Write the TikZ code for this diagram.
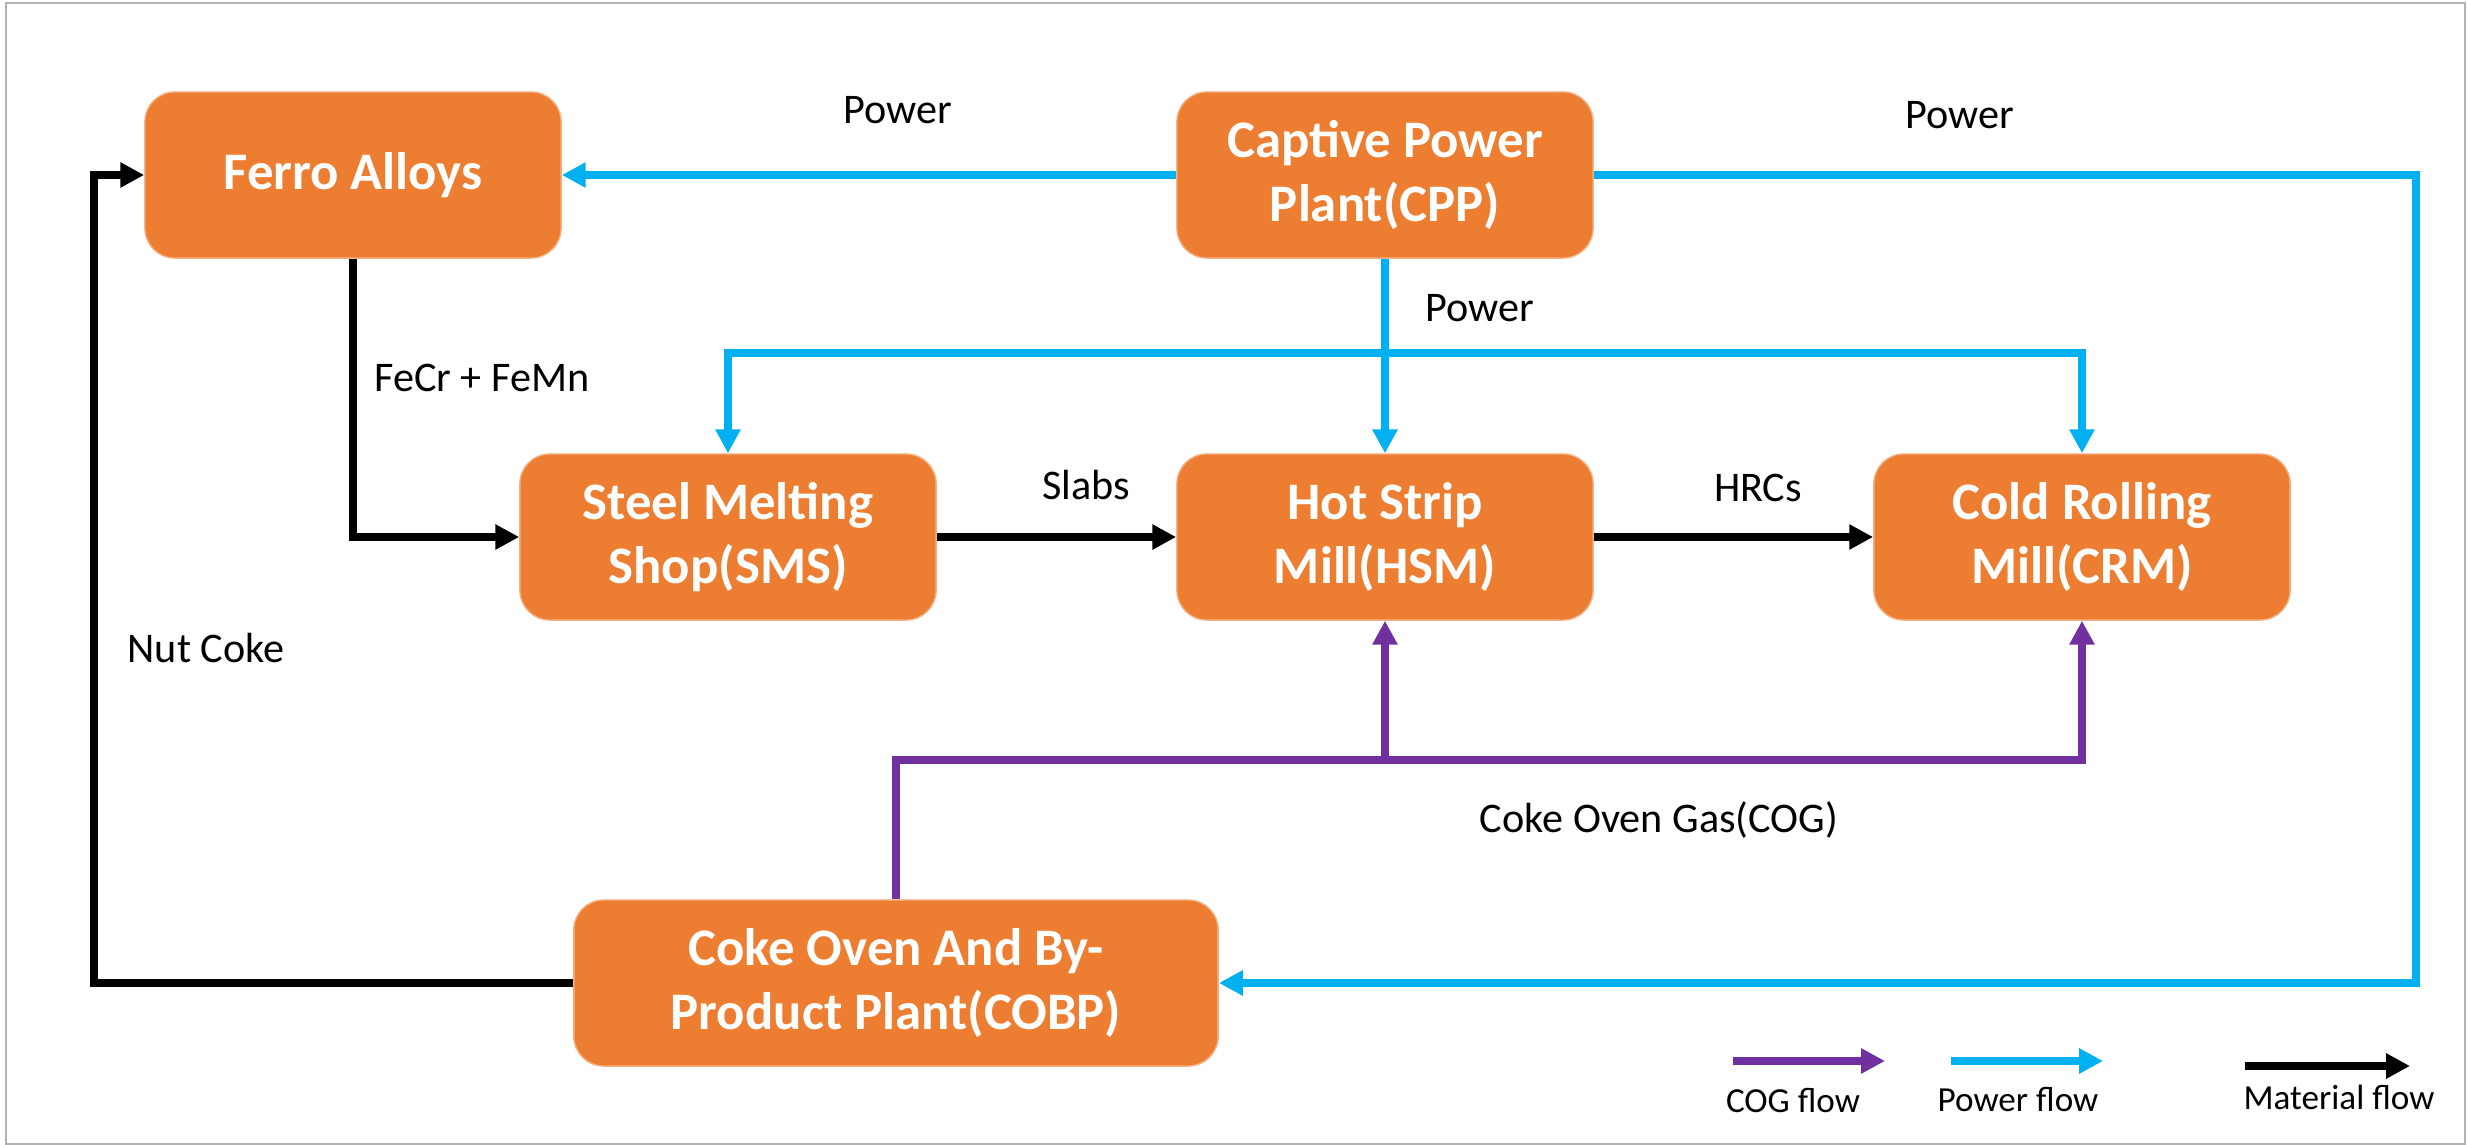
\documentclass[tikz,border=0pt]{standalone}
\usepackage{fontspec}
\setmainfont{Carlito}
\usetikzlibrary{positioning,arrows.meta}
\definecolor{plantorange}{HTML}{ED7D31}
\definecolor{powerblue}{HTML}{00B0F0}
\definecolor{cogpurple}{HTML}{7030A0}
\begin{document}
\begin{tikzpicture}[x=0.01cm,y=-0.01cm,>={Triangle[length=6.8pt,width=6.8pt]}]
	\tikzstyle{plant}=[rectangle,rounded corners=8.5pt,fill=plantorange,draw=plantorange!60,line width=0.4pt,text=white,font=\bfseries\fontsize{15}{18}\selectfont,align=center,minimum width=4.16cm,minimum height=1.66cm]
	\tikzstyle{power}=[draw=powerblue,line width=2.1pt,->]
	\tikzstyle{material}=[draw=black,line width=2.1pt,->]
	\tikzstyle{cog}=[draw=cogpurple,line width=2.1pt,->]
	\tikzstyle{flowlabel}=[font=\fontsize{12}{14}\selectfont]
	\tikzstyle{legendlabel}=[font=\fontsize{10}{12}\selectfont]
	\useasboundingbox (0,0) rectangle (2468,1145);
	\draw[gray!60,line width=0.6pt] (6,3) rectangle (2465,1144);
		\node[plant] (fa) at (353,175) {Ferro Alloys};
		\node[plant] (cpp) at (1385,175) {Captive Power\\Plant(CPP)};
		\node[plant] (sms) at (728,537) {Steel Melting\\Shop(SMS)};
		\node[plant] (hsm) at (1385,537) {Hot Strip\\Mill(HSM)};
		\node[plant] (crm) at (2082,537) {Cold Rolling\\Mill(CRM)};
		\node[plant,minimum width=6.44cm] (cobp) at (896,983) {Coke Oven And By-\\Product Plant(COBP)};
		\coordinate (bus) at (1385,353);
		\coordinate (righte) at (2416,175);
		\coordinate (lefte) at (94,983);
		\coordinate (cogbus) at (1385,760);
			\draw[power] (cpp) -- (fa);
			\draw[power] (cpp) -- (righte) |- (cobp);
			\draw[power] (cpp) -- (hsm);
			\draw[power,<->] (sms) |- (bus) -| (crm);
			\draw[material] (fa) |- (sms);
			\draw[material] (sms) -- (hsm);
			\draw[material] (hsm) -- (crm);
			\draw[material] (cobp) -- (lefte) |- (fa);
			\draw[cog] (cobp) |- (cogbus) -| (crm);
			\draw[cog] (cogbus) -- (hsm);
		\node[flowlabel] (l1) at (898,110) {Power};
		\node[flowlabel] (l2) at (1960,115) {Power};
		\node[flowlabel] (l3) at (1480,308) {Power};
		\node[flowlabel] (l4) at (482,378) {FeCr + FeMn};
		\node[flowlabel] (l5) at (1086,485) {Slabs};
		\node[flowlabel] (l6) at (1758,488) {HRCs};
		\node[flowlabel] (l7) at (206,648) {Nut Coke};
		\node[flowlabel] (l8) at (1659,820) {Coke Oven Gas(COG)};
		\coordinate (cogA) at (1733,1061);
		\coordinate (cogB) at (1885,1061);
		\coordinate (powA) at (1951,1061);
		\coordinate (powB) at (2103,1061);
		\coordinate (matA) at (2245,1066);
		\coordinate (matB) at (2410,1066);
			\draw[cog,line width=2.3pt] (cogA) -- (cogB);
			\draw[power,line width=2.3pt] (powA) -- (powB);
			\draw[material,line width=2.3pt] (matA) -- (matB);
		\node[legendlabel] (g1) at (1793,1101) {COG flow};
		\node[legendlabel] (g2) at (2018,1100) {Power flow};
		\node[legendlabel] (g3) at (2339,1097) {Material flow};
\end{tikzpicture}
\end{document}
